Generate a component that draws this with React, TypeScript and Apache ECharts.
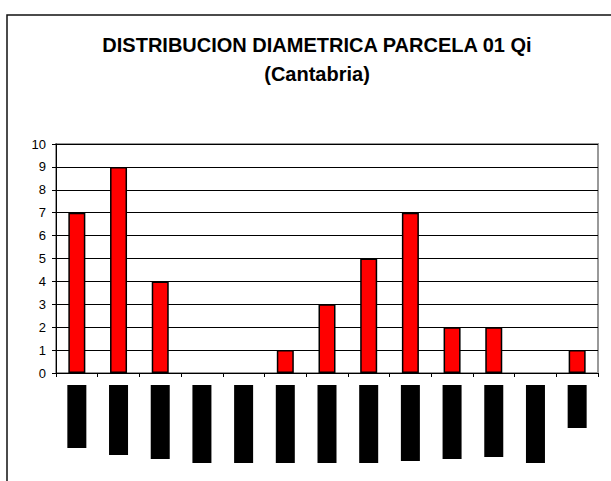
import React, { useEffect, useRef } from "react";
import * as echarts from "echarts";

const titleLines = ["DISTRIBUCION DIAMETRICA PARCELA 01 Qi", "(Cantabria)"];
const categories = ["1", "2", "3", "4", "5", "6", "7", "8", "9", "10", "11", "12", "13"];
const counts = [7, 9, 4, 0, 0, 1, 3, 5, 7, 2, 2, 0, 1];
// obscured category label blocks (length of each label block)
const labelBlockLength = [63, 70, 74, 78, 78, 78, 78, 78, 76, 74, 72, 78, 43];
const yTicks = { min: 0, max: 10, interval: 1 };

export default function App() {
  const ref = useRef<HTMLDivElement>(null);
  useEffect(() => {
    if (!ref.current) return;
    const chart = echarts.init(ref.current, null, { renderer: "svg" });
    chart.setOption({
      animation: false,
      backgroundColor: "#fff",
      title: {
        text: titleLines.join("\n"),
        left: 312,
        top: 25,
        textAlign: "center",
        textStyle: {
          fontFamily: "Liberation Sans, Arial, sans-serif",
          fontSize: 20,
          fontWeight: "bold",
          color: "#000",
          lineHeight: 29,
        },
      },
      graphic: [
        {
          type: "rect",
          shape: { x: 7, y: 15, width: 640, height: 520 },
          style: { fill: "none", stroke: "#111", lineWidth: 1.5 },
          silent: true,
          z: 0,
        },
      ],
      grid: [
        {
          left: 56,
          top: 144,
          right: 13,
          bottom: 108,
          show: true,
          borderColor: "#999",
          borderWidth: 2,
          backgroundColor: "transparent",
        },
        { left: 56, right: 13, top: 385, height: 96 },
      ],
      xAxis: [
        {
          type: "category",
          gridIndex: 0,
          data: categories,
          axisLine: { lineStyle: { color: "#000", width: 1 } },
          axisTick: { show: true, length: 4, lineStyle: { color: "#000" } },
          axisLabel: { show: false },
        },
        {
          type: "category",
          gridIndex: 1,
          data: categories,
          show: false,
        },
      ],
      yAxis: [
        {
          type: "value",
          gridIndex: 0,
          min: yTicks.min,
          max: yTicks.max,
          interval: yTicks.interval,
          axisLine: { show: true, lineStyle: { color: "#000", width: 1 } },
          axisTick: { show: true, length: 4, lineStyle: { color: "#000" } },
          axisLabel: {
            color: "#000",
            fontSize: 13,
            fontFamily: "Liberation Sans, Arial, sans-serif",
            margin: 10,
          },
          splitLine: { show: true, lineStyle: { color: "#000", width: 1 } },
        },
        {
          type: "value",
          gridIndex: 1,
          min: 0,
          max: 96,
          inverse: true,
          show: false,
        },
      ],
      series: [
        {
          type: "bar",
          xAxisIndex: 0,
          yAxisIndex: 0,
          data: counts.map((v) =>
            v === 0 ? { value: v, itemStyle: { borderWidth: 0 } } : v
          ),
          barWidth: 17,
          itemStyle: { color: "#FF0000", borderColor: "#000", borderWidth: 1.5 },
        },
        {
          type: "bar",
          xAxisIndex: 1,
          yAxisIndex: 1,
          data: labelBlockLength,
          barWidth: 19,
          itemStyle: { color: "#000" },
        },
      ],
    });
    return () => chart.dispose();
  }, []);
  return (
    <div
      ref={ref}
      style={{ position: "fixed", left: 0, top: 0, width: 611, height: 481 }}
    />
  );
}
